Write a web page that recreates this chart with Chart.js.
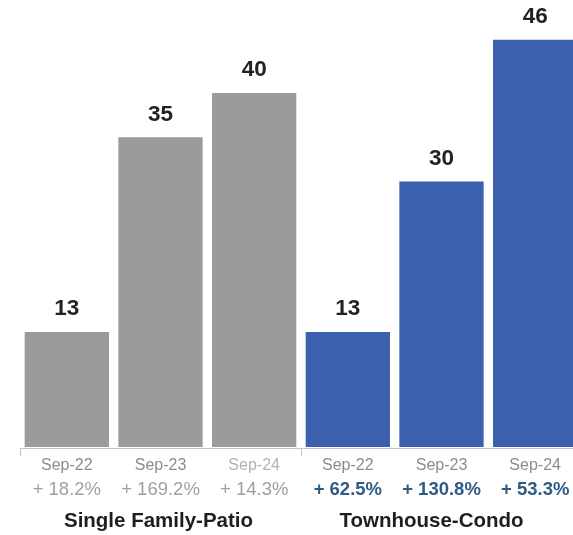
<!DOCTYPE html>
<html>
<head>
<meta charset="utf-8">
<script src="https://cdn.jsdelivr.net/npm/chart.js@4.4.1/dist/chart.umd.min.js"></script>
<style>
  html, body { margin: 0; padding: 0; background: #ffffff; overflow: hidden; width: 573px; height: 535px; }
  #wrap { position: absolute; left: 0; top: 0; width: 590px; height: 535px; }
</style>
</head>
<body>
<div id="wrap"><canvas id="c" width="590" height="535"></canvas></div>
<script>
// ---- data ----
const categories = ["Sep-22", "Sep-23", "Sep-24", "Sep-22", "Sep-23", "Sep-24"];
const values = [13, 35, 40, 13, 30, 46];
const changes = ["+ 18.2%", "+ 169.2%", "+ 14.3%", "+ 62.5%", "+ 130.8%", "+ 53.3%"];
const groups = ["Single Family-Patio", "Townhouse-Condo"];
const groupOf = [0, 0, 0, 1, 1, 1];

// ---- styles ----
const FONT = '"Liberation Sans", Arial, Helvetica, sans-serif';
const barColors = groupOf.map(g => g === 0 ? '#9b9c99' : '#3b60ae');
const catColors = ['#8c8c8c', '#8c8c8c', '#b2b2b2', '#8c8c8c', '#8c8c8c', '#8c8c8c'];
const chgColors = groupOf.map(g => g === 0 ? '#a0a0a0' : '#2f5a84');
const chgWeights = groupOf.map(g => g === 0 ? 'normal' : 'bold');

const labelsPlugin = {
  id: 'labels',
  afterDraw(chart) {
    const ctx = chart.ctx;
    const x = chart.scales.x;
    const area = chart.chartArea;
    const meta = chart.getDatasetMeta(0);
    ctx.save();
    // baseline
    ctx.strokeStyle = '#c4c4c4';
    ctx.lineWidth = 1;
    ctx.beginPath();
    ctx.moveTo(area.left, area.bottom + 1.5);
    ctx.lineTo(area.right, area.bottom + 1.5);
    const t0 = x.getPixelForValue(-0.5);
    const t1 = x.getPixelForValue(2.5);
    [t0, t1].forEach(px => {
      ctx.moveTo(Math.round(px) + 0.5, area.bottom + 1);
      ctx.lineTo(Math.round(px) + 0.5, area.bottom + 9);
    });
    ctx.stroke();

    ctx.textAlign = 'center';
    ctx.textBaseline = 'alphabetic';
    // value labels
    meta.data.forEach((bar, i) => {
      ctx.fillStyle = '#222222';
      ctx.font = 'bold 22.5px ' + FONT;
      ctx.fillText(String(values[i]), bar.x, bar.y - 16.5);
    });
    // category + change labels
    categories.forEach((c, i) => {
      const px = x.getPixelForValue(i);
      ctx.fillStyle = catColors[i];
      ctx.font = '16px ' + FONT;
      ctx.fillText(c, px, area.bottom + 23);
      ctx.fillStyle = chgColors[i];
      ctx.font = chgWeights[i] + ' 18.5px ' + FONT;
      ctx.fillText(changes[i], px, area.bottom + 48);
    });
    // group labels
    groups.forEach((g, gi) => {
      const idx = groupOf.indexOf(gi) + 1;
      const px = x.getPixelForValue(idx) - (gi === 1 ? 10 : 2);
      ctx.fillStyle = '#1e1e1e';
      ctx.font = 'bold 20.5px ' + FONT;
      ctx.fillText(g, px, area.bottom + 80);
    });
    ctx.restore();
  }
};

new Chart(document.getElementById('c'), {
  type: 'bar',
  data: {
    labels: categories,
    datasets: [{
      data: values,
      backgroundColor: barColors,
      borderWidth: 0,
      barPercentage: 0.9,
      categoryPercentage: 1.0
    }]
  },
  options: {
    responsive: false,
    animation: false,
    layout: { padding: { left: 20, right: 8, top: 0, bottom: 88 } },
    plugins: { legend: { display: false }, tooltip: { enabled: false } },
    scales: {
      x: { display: false },
      y: { display: false, min: 0, max: 50.5 }
    }
  },
  plugins: [labelsPlugin]
});
</script>
</body>
</html>
